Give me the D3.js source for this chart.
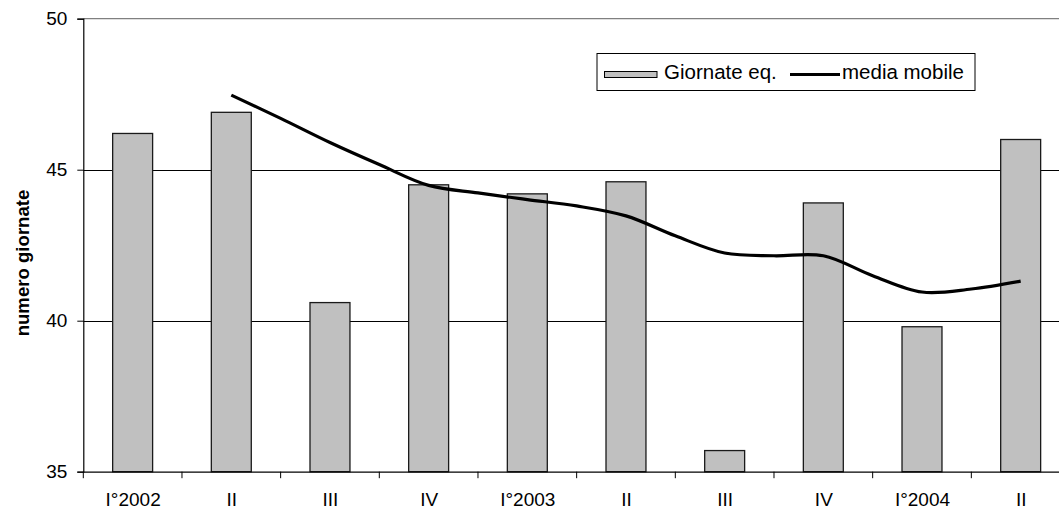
<!DOCTYPE html>
<html>
<head>
<meta charset="utf-8">
<script src="https://cdn.jsdelivr.net/npm/d3@7/dist/d3.min.js"></script>
<style>
  html, body { margin: 0; padding: 0; background: #fff; }
  svg { display: block; }
  text { font-family: "Liberation Sans", Arial, sans-serif; fill: #000; }
</style>
</head>
<body>
<svg id="chart" width="1059" height="511"></svg>
<script>
// ---- data ----
const categories = ["I°2002", "II", "III", "IV", "I°2003", "II", "III", "IV", "I°2004", "II"];
const giornate = [46.2, 46.9, 40.6, 44.5, 44.2, 44.6, 35.7, 43.9, 39.8, 46.0];
// moving average read at half-quarter positions (category index)
const mediaPos = [1, 1.5, 2, 2.5, 3, 3.5, 4, 4.5, 5, 5.5, 6, 6.5, 7, 7.5, 8, 8.5, 9];
const mediaMobile = [47.47, 46.70, 45.90, 45.17, 44.48, 44.23, 44.01, 43.80, 43.47, 42.81, 42.24, 42.15, 42.15, 41.49, 40.95, 41.05, 41.31];
const yTicks = [35, 40, 45, 50];
const legendLabels = ["Giornate eq.", "media mobile"];

// ---- layout ----
const svg = d3.select("#chart");
const pLeft = 83.3, pRight = 1070, pTop = 18.7, pBottom = 471.7;

const idx = categories.map((d, i) => i);
const pad = 0.595;
const x = d3.scaleBand().domain(idx).range([pLeft, pRight]).paddingInner(pad).paddingOuter(pad / 2);
const xPos = d3.scaleLinear().domain([-0.5, categories.length - 0.5]).range([pLeft, pRight]);
const y = d3.scaleLinear().domain([35, 50]).range([pBottom, pTop]);

// plot border (top)
svg.append("line").attr("x1", pLeft).attr("x2", pRight).attr("y1", y(50)).attr("y2", y(50))
  .attr("stroke", "#808080").attr("stroke-width", 1.3);

// gridlines
svg.append("g").selectAll("line").data(yTicks.filter(t => t > 35 && t < 50)).join("line")
  .attr("x1", pLeft).attr("x2", pRight)
  .attr("y1", d => Math.round(y(d)) + 0.5).attr("y2", d => Math.round(y(d)) + 0.5)
  .attr("stroke", "#000").attr("stroke-width", 1);

// bars
svg.append("g").selectAll("rect").data(giornate).join("rect")
  .attr("x", (d, i) => x(i))
  .attr("width", x.bandwidth())
  .attr("y", d => y(d))
  .attr("height", d => y(35) - y(d))
  .attr("fill", "#C0C0C0")
  .attr("stroke", "#1a1a1a")
  .attr("stroke-width", 1.3);

// moving average line
const line = d3.line()
  .x((d, i) => xPos(mediaPos[i]))
  .y(d => y(d))
  .curve(d3.curveCatmullRom.alpha(0.5));
svg.append("path").datum(mediaMobile)
  .attr("d", line)
  .attr("fill", "none")
  .attr("stroke", "#000")
  .attr("stroke-width", 3.2)
  .attr("stroke-linejoin", "round");

// y axis
const yAxis = d3.axisLeft(y).tickValues(yTicks).tickSize(6).tickPadding(10).tickFormat(d3.format("d"));
const gy = svg.append("g").attr("transform", `translate(${pLeft},0)`).call(yAxis);
gy.select(".domain").attr("stroke", "#000").attr("stroke-width", 1.2);
gy.selectAll(".tick line").attr("stroke", "#000");
gy.selectAll(".tick text").style("font-size", "19px").attr("font-family", null);

// x axis
const xAxis = d3.axisBottom(xPos).tickValues(idx).tickSize(0).tickPadding(21)
  .tickFormat(i => categories[i]);
const gx = svg.append("g").attr("transform", `translate(0,${pBottom})`).call(xAxis);
gx.select(".domain").attr("stroke", "#000").attr("stroke-width", 1.2);
gx.selectAll(".tick text").style("font-size", "19px").attr("font-family", null);
// tick marks at category boundaries
svg.append("g").selectAll("line").data(d3.range(0, categories.length + 1)).join("line")
  .attr("x1", d => xPos(d - 0.5)).attr("x2", d => xPos(d - 0.5))
  .attr("y1", pBottom).attr("y2", pBottom + 6.5)
  .attr("stroke", "#000").attr("stroke-width", 1);

// y title
svg.append("text")
  .attr("transform", "translate(29,263) rotate(-90)")
  .attr("text-anchor", "middle")
  .style("font-size", "18.6px")
  .style("font-weight", "bold")
  .text("numero giornate");

// legend
const lg = svg.append("g");
lg.append("rect").attr("x", 597).attr("y", 53.5).attr("width", 378).attr("height", 37)
  .attr("fill", "#fff").attr("stroke", "#000").attr("stroke-width", 1);
lg.append("rect").attr("x", 604.5).attr("y", 71.5).attr("width", 52.5).attr("height", 6)
  .attr("fill", "#C0C0C0").attr("stroke", "#000").attr("stroke-width", 1);
lg.append("text").attr("x", 664).attr("y", 78.5).style("font-size", "20.5px").text(legendLabels[0]);
lg.append("line").attr("x1", 790).attr("x2", 840).attr("y1", 74.5).attr("y2", 74.5)
  .attr("stroke", "#000").attr("stroke-width", 3.2);
lg.append("text").attr("x", 842).attr("y", 78.5).style("font-size", "20.5px").text(legendLabels[1]);
</script>
</body>
</html>
